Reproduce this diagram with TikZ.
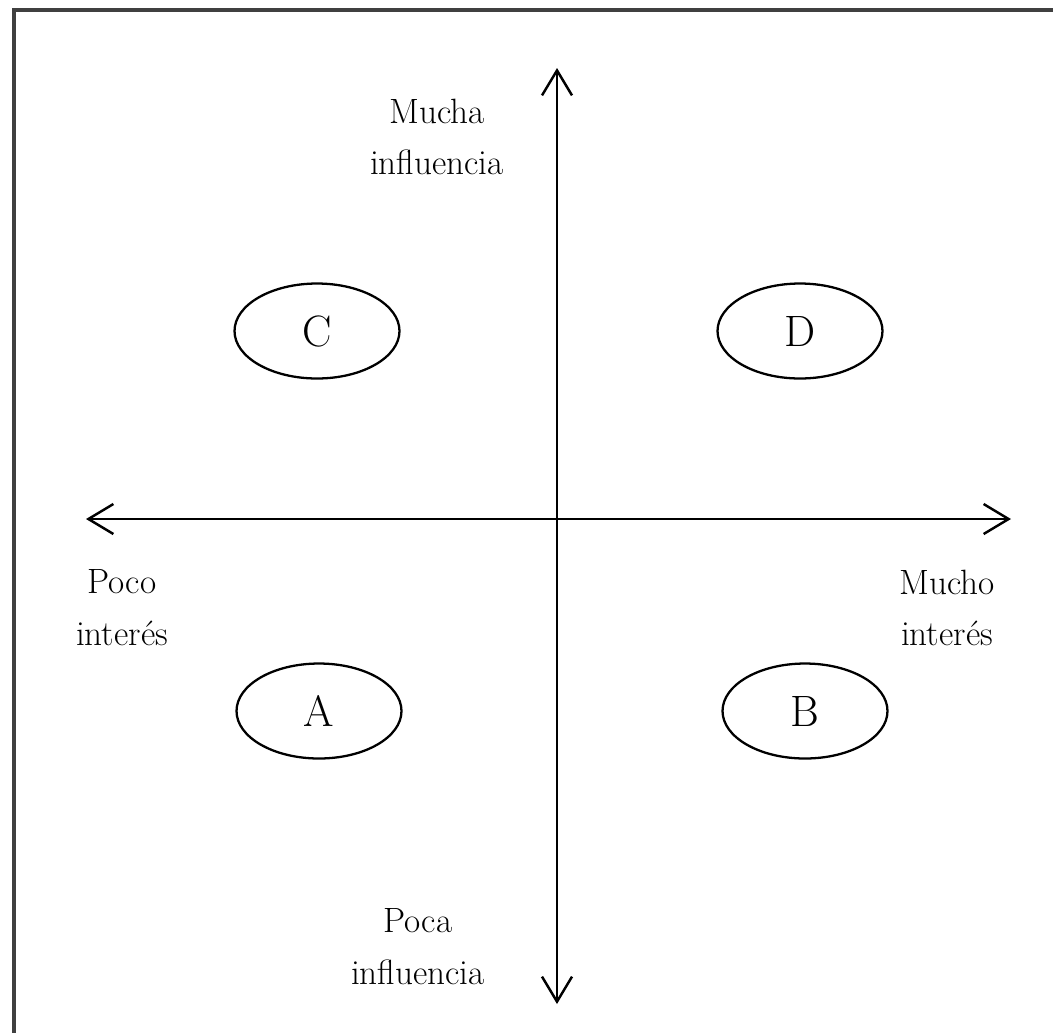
\documentclass[tikz,border=0pt]{standalone}
\usepackage{tikz}
\usetikzlibrary{shapes.geometric, arrows.meta}

\tikzset{
  lbl/.style={align=center, font=\fontsize{20}{29.5}\selectfont},
  grp/.style={draw, ellipse, line width=1.3pt, minimum width=3.3cm, minimum height=1.9cm, font=\fontsize{25}{30}\selectfont},
  axis/.style={line width=1.4pt, {Straight Barb[length=5mm,width=6mm]}-{Straight Barb[length=5mm,width=6mm]}}
}

\begin{document}
\begin{tikzpicture}[x=0.02cm, y=-0.02cm]
\useasboundingbox (0,0) rectangle (1053,1032);
\draw[line width=2.4pt, black!75] (14,10) rectangle (1080,1060);

\coordinate (top) at (557,68);
\coordinate (bot) at (557,1004);
\coordinate (left) at (86,519);
\coordinate (right) at (1011,519);

\node[grp] (C) at (317,331) {C};
\node[grp] (D) at (800,331) {D};
\node[grp] (A) at (319,711) {A};
\node[grp] (B) at (805,711) {B};

\node[lbl] (mucha) at (437,137) {Mucha\\influencia};
\node[lbl] (poca) at (418,947) {Poca\\influencia};
\node[lbl] (poco) at (122,608) {Poco\\inter\'es};
\node[lbl] (mucho) at (947,608) {Mucho\\inter\'es};

\draw[axis] (bot) -- (top);
\draw[axis] (left) -- (right);
\end{tikzpicture}
\end{document}
